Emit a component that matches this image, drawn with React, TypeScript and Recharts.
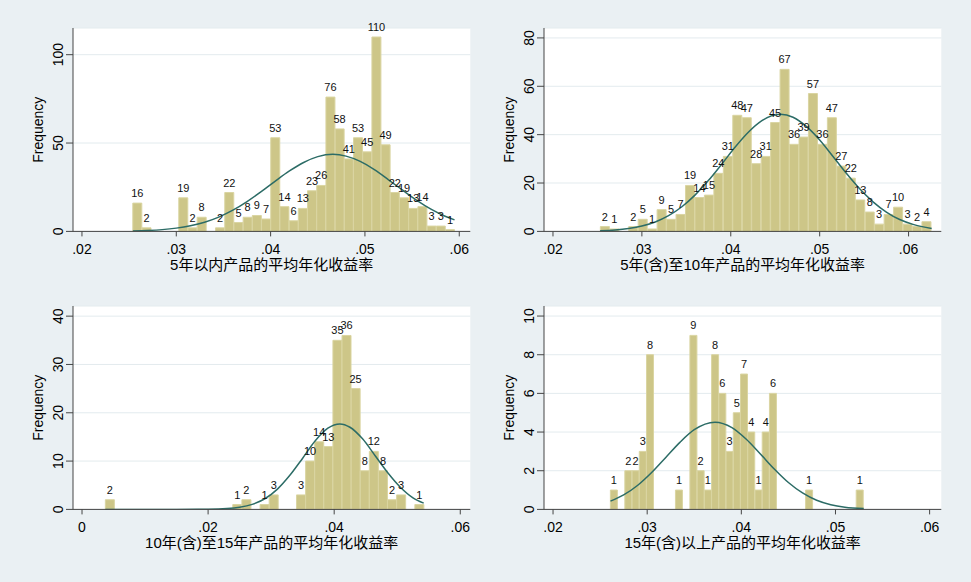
import React from 'react';
import { ComposedChart, Bar, Line, XAxis, YAxis, CartesianGrid, LabelList } from 'recharts';

const FONT = '"Liberation Sans", Arial, "Noto Sans CJK SC", sans-serif';

// 5年以内
const p1Counts = [16, 2, 0, 0, 0, 19, 2, 8, 0, 2, 22, 5, 8, 9, 7, 53, 14, 6, 13, 23, 26, 76, 58, 41, 53, 45, 110, 49, 22, 19, 13, 14, 3, 3, 1];
const p1BinStart = 0.02539;
const p1BinWidth = 0.000975;
const p1CurveX = [0.0254, 0.027, 0.0285, 0.03, 0.0315, 0.033, 0.0345, 0.036, 0.0375, 0.039, 0.0405, 0.042, 0.0435, 0.045, 0.0466, 0.048, 0.0495, 0.051, 0.0525, 0.054, 0.0555, 0.057, 0.0585, 0.0595];
const p1CurveY = [0.25, 0.53, 1.0, 1.85, 3.2, 5.2, 8.1, 12.0, 16.9, 22.5, 28.5, 34.2, 39.0, 42.3, 43.6, 42.6, 39.6, 34.9, 29.2, 23.3, 17.6, 12.6, 8.6, 6.5];

// 5年(含)至10年
const p2Counts = [2, 1, 0, 2, 5, 1, 9, 5, 7, 19, 14, 15, 24, 31, 48, 47, 28, 31, 45, 67, 36, 39, 57, 36, 47, 27, 22, 13, 8, 3, 7, 10, 3, 2, 4];
const p2BinStart = 0.02533;
const p2BinWidth = 0.001064;
const p2CurveX = [0.0253, 0.027, 0.0285, 0.03, 0.0315, 0.033, 0.0345, 0.036, 0.0375, 0.039, 0.0405, 0.042, 0.0435, 0.0456, 0.047, 0.0485, 0.05, 0.0515, 0.053, 0.0545, 0.056, 0.0575, 0.059, 0.0605, 0.0626];
const p2CurveY = [0.26, 0.6, 1.2, 2.2, 3.9, 6.5, 10.2, 15.1, 21.1, 27.9, 34.9, 41.1, 45.8, 48.4, 47.2, 43.4, 37.8, 31.0, 24.0, 17.6, 12.2, 8.0, 4.9, 2.9, 1.2];

// 10年(含)至15年
const p3Counts = [2, 0, 0, 0, 0, 0, 0, 0, 0, 0, 0, 0, 0, 0, 1, 2, 0, 1, 3, 0, 0, 3, 10, 14, 13, 35, 36, 25, 8, 12, 8, 2, 3, 0, 1];
const p3BinStart = 0.0037;
const p3BinWidth = 0.001444;
const p3CurveX = [0.0037, 0.01, 0.015, 0.02, 0.023, 0.025, 0.027, 0.029, 0.031, 0.033, 0.035, 0.037, 0.039, 0.0409, 0.0425, 0.0445, 0.0465, 0.0485, 0.0505, 0.0525, 0.0542];
const p3CurveY = [0, 0, 0, 0.03, 0.16, 0.43, 1.04, 2.2, 4.2, 7.1, 10.6, 14.2, 16.8, 17.7, 17.0, 14.6, 11.1, 7.6, 4.6, 2.4, 1.3];

// 15年(含)以上
const p4Counts = [1, 0, 2, 2, 3, 8, 0, 0, 0, 1, 0, 9, 2, 1, 8, 6, 3, 5, 7, 4, 1, 4, 6, 0, 0, 0, 0, 1, 0, 0, 0, 0, 0, 0, 1];
const p4BinStart = 0.02609;
const p4BinWidth = 0.000768;
const p4CurveX = [0.0261, 0.0275, 0.029, 0.0305, 0.032, 0.0335, 0.035, 0.0372, 0.039, 0.0405, 0.042, 0.0435, 0.045, 0.0465, 0.048, 0.0495, 0.051, 0.053];
const p4CurveY = [0.43, 0.75, 1.25, 1.92, 2.7, 3.48, 4.12, 4.51, 4.23, 3.64, 2.88, 2.09, 1.39, 0.85, 0.47, 0.24, 0.11, 0.04];

const xTicksA = [0.02, 0.03, 0.04, 0.05, 0.06];
const xTicksC = [0, 0.02, 0.04, 0.06];

const PW = 397.3;
const PH = 203.4;

const fmtX = (v: number) => (v === 0 ? '0' : String(v).replace(/^0/, ''));

const renderYTick = (props: any) => {
  const { x, y, payload } = props;
  return (
    <text x={x} y={y} transform={`rotate(-90 ${x} ${y})`} textAnchor="middle" fontSize={14} fill="#000">
      {payload.value}
    </text>
  );
};

function Panel(props: any) {
  const { left, top, counts, start, width, curveX, curveY, xDomain, xTicks, yDomain, yTicks, title } = props;
  const bins = counts.map((n: number, i: number) => ({ x: start + (i + 0.5) * width, n }));
  const curve = curveX.map((x: number, i: number) => ({ x, y: curveY[i] }));
  return (
    <div style={{ position: 'absolute', left: left - 70, top: top - 12 }}>
      <ComposedChart
        width={70 + PW + 10}
        height={12 + PH + 50}
        data={bins}
        margin={{ top: 12, right: 10, bottom: 0, left: 0 }}
        barCategoryGap={0}
        barGap={0}
      >
        <CartesianGrid xAxisId="bins" vertical={false} fill="#fff" stroke="#e3ebee" />
        <XAxis
          xAxisId="bins"
          type="number"
          dataKey="x"
          domain={xDomain}
          ticks={xTicks}
          allowDataOverflow
          interval={0}
          tickFormatter={fmtX}
          tickSize={5}
          tickMargin={8}
          height={50}
          stroke="#444"
          tick={{ fill: '#000', fontSize: 14 }}
          label={{ value: title, position: 'insideBottom', offset: 11, fontSize: 15, fill: '#000' }}
        />
        <XAxis xAxisId="curve" type="number" dataKey="x" domain={xDomain} allowDataOverflow hide />
        <YAxis
          type="number"
          domain={yDomain}
          ticks={yTicks}
          allowDataOverflow
          interval={0}
          width={70}
          tickSize={7}
          tickMargin={3}
          tick={renderYTick}
          stroke="#444"
          label={{ value: 'Frequency', angle: -90, position: 'center', fontSize: 14, fill: '#000' }}
        />
        <Bar xAxisId="bins" dataKey="n" fill="#cdc688" stroke="#dad5a2" strokeWidth={1} isAnimationActive={false}>
          <LabelList
            dataKey="n"
            position="top"
            offset={6}
            formatter={(v: any) => (v ? v : '')}
            fontSize={11}
            fill="#111"
          />
        </Bar>
        <Line
          xAxisId="curve"
          data={curve}
          dataKey="y"
          type="monotone"
          dot={false}
          stroke="#2c6c66"
          strokeWidth={1.5}
          isAnimationActive={false}
        />
      </ComposedChart>
    </div>
  );
}

export default function App() {
  return (
    <div
      style={{
        position: 'absolute',
        left: 0,
        top: 0,
        width: 971,
        height: 582,
        background: '#eaf0f3',
        fontFamily: FONT,
      }}
    >
      <Panel
        left={72.7}
        top={28.3}
        counts={p1Counts}
        start={p1BinStart}
        width={p1BinWidth}
        curveX={p1CurveX}
        curveY={p1CurveY}
        xDomain={[0.01905, 0.06117]}
        xTicks={xTicksA}
        yDomain={[0, 115.1]}
        yTicks={[0, 50, 100]}
        title="5年以内产品的平均年化收益率"
      />
      <Panel
        left={544.3}
        top={28.3}
        counts={p2Counts}
        start={p2BinStart}
        width={p2BinWidth}
        curveX={p2CurveX}
        curveY={p2CurveY}
        xDomain={[0.01899, 0.06368]}
        xTicks={xTicksA}
        yDomain={[0, 84.1]}
        yTicks={[0, 20, 40, 60, 80]}
        title="5年(含)至10年产品的平均年化收益率"
      />
      <Panel
        left={72.7}
        top={306}
        counts={p3Counts}
        start={p3BinStart}
        width={p3BinWidth}
        curveX={p3CurveX}
        curveY={p3CurveY}
        xDomain={[-0.00143, 0.06159]}
        xTicks={xTicksC}
        yDomain={[0, 42.1]}
        yTicks={[0, 10, 20, 30, 40]}
        title="10年(含)至15年产品的平均年化收益率"
      />
      <Panel
        left={544.3}
        top={306}
        counts={p4Counts}
        start={p4BinStart}
        width={p4BinWidth}
        curveX={p4CurveX}
        curveY={p4CurveY}
        xDomain={[0.01904, 0.06124]}
        xTicks={xTicksA}
        yDomain={[0, 10.52]}
        yTicks={[0, 2, 4, 6, 8, 10]}
        title="15年(含)以上产品的平均年化收益率"
      />
    </div>
  );
}
